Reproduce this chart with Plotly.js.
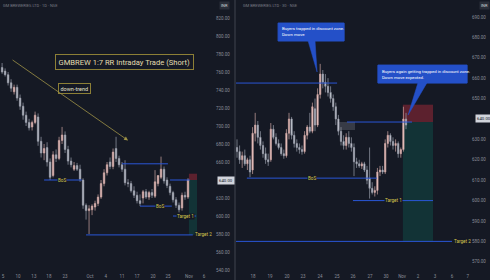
<!DOCTYPE html>
<html><head><meta charset="utf-8">
<script src="https://cdn.plot.ly/plotly-3.0.1.min.js"></script>
<style>html,body{margin:0;padding:0;background:#151924;}#c{width:490px;height:280px;}</style>
</head><body><div id="c"></div>
<script>
// ---- Left panel candles ----
const leftOpen  = [765,761,757,748,738,743,731,722,712,704,699,704,710,683,670,676,660,645,668,664,684,690,674,661,652,656,652,640,612,606,607,610,614,621,636,648,660,655,675,664,657,652,637,636,628,623,617,620,627,621,626,622,636,643,652,640,633,626,618,612,609,623,621];
const leftHigh  = [770,764,760,752,746,746,735,726,716,708,706,716,714,688,680,682,664,672,674,688,699,694,678,665,660,659,657,642,614,612,613,617,624,640,652,660,665,675,688,667,660,662,641,639,633,627,624,629,630,628,630,651,645,666,655,643,636,628,621,615,626,627,642];
const leftLow   = [758,755,745,738,735,728,718,707,700,695,695,702,678,665,662,655,640,643,660,662,680,670,657,654,650,650,638,608,596,580,601,606,611,619,633,645,652,652,660,654,649,634,632,626,620,614,611,614,619,618,620,620,633,641,636,631,623,615,609,604,606,618,619];
const leftClose = [760,757,748,742,743,731,722,712,704,698,704,712,683,670,675,660,643,668,664,684,690,674,661,657,656,652,641,612,606,608,611,614,621,636,648,657,655,671,664,657,652,637,636,628,623,617,614,627,621,626,623,638,645,652,639,634,626,618,612,607,623,621,640];
const leftTickPos    = [0.3,5.3,10.6,15.6,21,29.3,34.6,40,45,50.3,55.3,62.3,67.3];
const leftTickLabels = ["5","10","13","18","23","Oct","4","11","17","20","25","Nov","6"];
const leftPriceTicks = [540,560,580,600,620,660,680,700,720,740,760,780,800,820];

// ---- Right panel candles ----
const rightOpen  = [626,624,620,622,618,620,615,633,637,631,627,623,620,620,635,631,628,626,623,622,633,640,632,628,626,625,624,632,636,634,645,637,652,662,658,656,653,650,646,640,634,629,627,631,628,626,619,618,617,618,615,611,606,604,605,614,615,614,628,632,629,627,628,623,625,640];
const rightHigh  = [630,627,624,625,621,622,636,643,639,634,629,626,623,638,637,633,630,628,625,635,643,641,634,630,628,627,634,637,643,648,650,655,667,664,662,660,656,652,648,642,636,632,633,634,631,628,621,620,619,619,617,626,609,607,616,617,617,630,634,633,631,630,629,626,646,643];
const rightLow   = [621,618,616,617,615,611.5,613,629,628,625,621,618,617,619,630,627,625,622,620.5,621,630,630,626,624,623,622.5,623,630,633,633,634,636,650,655,653,651,648,644,637,632,627,625,625,626,624,612,616,616,615.5,614,608,601,603,602,603,612,613,613,626,627,625,624,621,621,624,635];
const rightClose = [624,620,622,618,620,614,633,637,631,627,623,620,619,635,631,628,626,623,622,633,640,632,628,626,625,624,632,636,634,646,637,652,662,658,656,653,650,646,640,634,629,627,631,628,626,619,618,617,618,615,610,606,604,605,614,615,614,628,632,629,627,628,623,625,640,637];
const rightTickPos    = [6.15,12.7,19.2,25.4,31.9,38.5,44.6,51.2,57.3,63.5,69.6,76.2,82.7,88.8];
const rightTickLabels = ["18","19","20","23","24","25","26","27","30","Nov","2","3","6","7"];
const rightPriceTicks = [570,580,590,600,610,620,630,650,660,670,680,690];

// ---- Levels ----
const leftEntry = 640, leftStop = 647, leftT1 = 600, leftT2 = 579, leftBos1 = 640, leftBos2 = 611, leftUpper = 658;
const rightEntry = 638.5, rightStop = 647, rightT1 = 600, rightT2 = 580, rightBos = 611, rightUpper = 657.6;
const lastPrice = 640;

const BG = '#151924';
const idx = a => a.map((_, i) => i);
const UP = '#f2cbc8', DN = '#d1d4dc';
const candle = (o,h,l,c,xa,ya) => ({
  type:'candlestick', x: idx(o), open:o, high:h, low:l, close:c, xaxis:xa, yaxis:ya,
  increasing:{line:{color:'#cfa6a3', width:0.7}, fillcolor:UP},
  decreasing:{line:{color:'#9a9daa', width:0.7}, fillcolor:DN},
  whiskerwidth:0, hoverinfo:'skip', showlegend:false
});

const data = [
  candle(leftOpen,leftHigh,leftLow,leftClose,'x','y'),
  candle(rightOpen,rightHigh,rightLow,rightClose,'x2','y2')
];

const BLUE = '#2a56d6', YEL = '#d6c64e';
const hl = (xr, yr, x0, x1, y, w) => ({type:'line', xref:xr, yref:yr, x0:x0, x1:x1, y0:y, y1:y, line:{color:BLUE, width:w||1}});
const rect = (xr, yr, x0, x1, y0, y1, fill) => ({type:'rect', xref:xr, yref:yr, x0:x0, x1:x1, y0:y0, y1:y1, fillcolor:fill, line:{width:0}, layer:'below'});

const shapes = [
  hl('x','y',14,26.6,leftBos1), hl('x','y',40,55.3,leftUpper), hl('x','y',46,56.6,leftBos2),
  hl('x','y',56,62.6,leftEntry), hl('x','y',57,64.7,leftT1), hl('x','y',28,63.6,leftT2),
  rect('x','y',62.3,65,leftEntry,leftStop,'rgba(242,54,69,0.32)'),
  rect('x','y',62.3,65,leftT2,leftEntry,'rgba(8,153,129,0.2)'),
  hl('x2','y2',-0.4,38.5,rightUpper), hl('x2','y2',42.3,67.3,rightEntry), hl('x2','y2',3.8,53.8,rightBos),
  hl('x2','y2',44.6,75.4,rightT1), hl('x2','y2',-0.4,82.7,rightT2),
  rect('x2','y2',38.5,45.4,634.6,rightEntry,'rgba(120,123,134,0.35)'),
  rect('x2','y2',63.8,75.4,rightEntry,rightStop,'rgba(242,54,69,0.32)'),
  rect('x2','y2',63.8,75.4,rightT2,rightEntry,'rgba(8,153,129,0.2)'),
  {type:'rect', xref:'x2', yref:'y2', x0:15.8, x1:41.2, y0:678.2, y1:687, fillcolor:'#2450c8', line:{color:'#2450c8', width:1}},
  {type:'path', xref:'x2', yref:'y2', path:'M 27.3 678.4 L 30.8 663 L 30 678.4 Z', fillcolor:'#2450c8', line:{color:'#2450c8', width:0.5}},
  {type:'rect', xref:'x2', yref:'y2', x0:54.2, x1:88.5, y0:657.6, y1:666.4, fillcolor:'#2450c8', line:{color:'#2450c8', width:1}},
  {type:'path', xref:'x2', yref:'y2', path:'M 69.6 657.8 L 65.8 641.9 L 73.1 657.8 Z', fillcolor:'#2450c8', line:{color:'#2450c8', width:0.5}},
  {type:'line', xref:'paper', yref:'paper', x0:235/490, x1:235/490, y0:-0.03, y1:1, line:{color:'#2a2e39', width:2}}
];

const small = (txt, xr, yr, x, y, opts) => Object.assign({text:txt, xref:xr, yref:yr, x:x, y:y, showarrow:false,
  font:{family:'Roboto, sans-serif', size:4.6, color:YEL}, bgcolor:BG, borderpad:0}, opts||{});

const annotations = [
  {text:'GMBREW 1:7 RR Intraday Trade (Short)', xref:'x', yref:'y', x:40.8, y:770.6, showarrow:false,
   font:{family:'Roboto, sans-serif', size:7.6, color:'#e3ddb0'},
   bgcolor:BG, bordercolor:'#8c7f36', borderwidth:1, borderpad:2.5},
  {text:'down-trend', xref:'x', yref:'y', x:24, y:742, showarrow:false,
   font:{family:'Roboto, sans-serif', size:5.5, color:'#e6e3cf'}, bgcolor:BG, bordercolor:'#8c7f36', borderwidth:1, borderpad:1.5},
  {xref:'x', yref:'y', axref:'x', ayref:'y', x:42, y:684, ax:3, ay:774.5, showarrow:true, arrowhead:2, arrowsize:1,
   arrowwidth:0.8, arrowcolor:'#9e9246', text:''},
  small('BoS','x','y',20,leftBos1), small('BoS','x','y',52.6,leftBos2),
  small('Target 1','x','y',61,leftT1), small('Target 2','x','y',63.9,leftT2,{xanchor:'left'}),
  small('BoS','x2','y2',28.8,rightBos), small('Target 1','x2','y2',60,rightT1),
  small('Target 2','x2','y2',83,rightT2,{xanchor:'left'}),
  {text:'Buyers trapped in discount zone.<br>Down move', xref:'x2', yref:'y2', x:16.6, y:686.3, xanchor:'left', yanchor:'top',
   align:'left', showarrow:false, font:{family:'Roboto, sans-serif', size:4.3, color:'#ffffff'}},
  {text:'Buyers again getting trapped in discount zone.<br>Down move expected.', xref:'x2', yref:'y2', x:55, y:665.7, xanchor:'left', yanchor:'top',
   align:'left', showarrow:false, font:{family:'Roboto, sans-serif', size:4.3, color:'#ffffff'}},
  {text:'640.00', xref:'paper', yref:'y', x:217/490, y:lastPrice, xanchor:'left', showarrow:false,
   font:{family:'Roboto, sans-serif', size:4.3, color:'#131722'}, bgcolor:'#d1d4dc', borderpad:1},
  {text:'640.00', xref:'paper', yref:'y2', x:475/490, y:lastPrice, xanchor:'left', showarrow:false,
   font:{family:'Roboto, sans-serif', size:4.3, color:'#131722'}, bgcolor:'#d1d4dc', borderpad:1},
  {text:'GM BREWERIES LTD · 1D · NSE', xref:'paper', yref:'paper', x:0.002, y:0.998, xanchor:'left', yanchor:'top', showarrow:false,
   font:{family:'Roboto, sans-serif', size:4, color:'#787b86'}},
  {text:'GM BREWERIES LTD · 30 · NSE', xref:'paper', yref:'paper', x:241/490, y:0.998, xanchor:'left', yanchor:'top', showarrow:false,
   font:{family:'Roboto, sans-serif', size:4, color:'#787b86'}},
  {text:'INR', xref:'paper', yref:'paper', x:219/490, y:0.995, xanchor:'left', yanchor:'top', showarrow:false,
   font:{family:'Roboto, sans-serif', size:4, color:'#d1d4dc'}, bgcolor:'#2a2e39', borderpad:1},
  {text:'INR', xref:'paper', yref:'paper', x:479/490, y:0.995, xanchor:'left', yanchor:'top', showarrow:false,
   font:{family:'Roboto, sans-serif', size:4, color:'#d1d4dc'}, bgcolor:'#2a2e39', borderpad:1}
];

const tickFont = {family:'Roboto, sans-serif', size:4.5, color:'#8a8d98'};
const xax = (dom, rng, tv, tt) => ({domain:dom, range:rng, tickvals:tv, ticktext:tt, showgrid:false, zeroline:false,
  showline:false, ticks:'', tickfont:tickFont, rangeslider:{visible:false}, fixedrange:true, automargin:false});
const yax = (anchor, rng, tv) => ({anchor:anchor, side:'right', range:rng, tickvals:tv, tickformat:'.2f', showgrid:false,
  zeroline:false, showline:false, ticks:'', tickfont:tickFont, fixedrange:true, automargin:false});

const layout = {
  width:490, height:280, margin:{l:0, r:0, t:0, b:8},
  paper_bgcolor:BG, plot_bgcolor:BG, showlegend:false,
  xaxis: xax([0, 215/490], [-0.7, 71], leftTickPos, leftTickLabels),
  yaxis: yax('x', [537.8, 840], leftPriceTicks),
  xaxis2: Object.assign(xax([236/490, 471/490], [-0.385, 90], rightTickPos, rightTickLabels), {anchor:'y2'}),
  yaxis2: yax('x2', [565.0, 698.3], rightPriceTicks),
  shapes: shapes, annotations: annotations
};

Plotly.newPlot('c', data, layout, {staticPlot:true, displayModeBar:false});
</script></body></html>
